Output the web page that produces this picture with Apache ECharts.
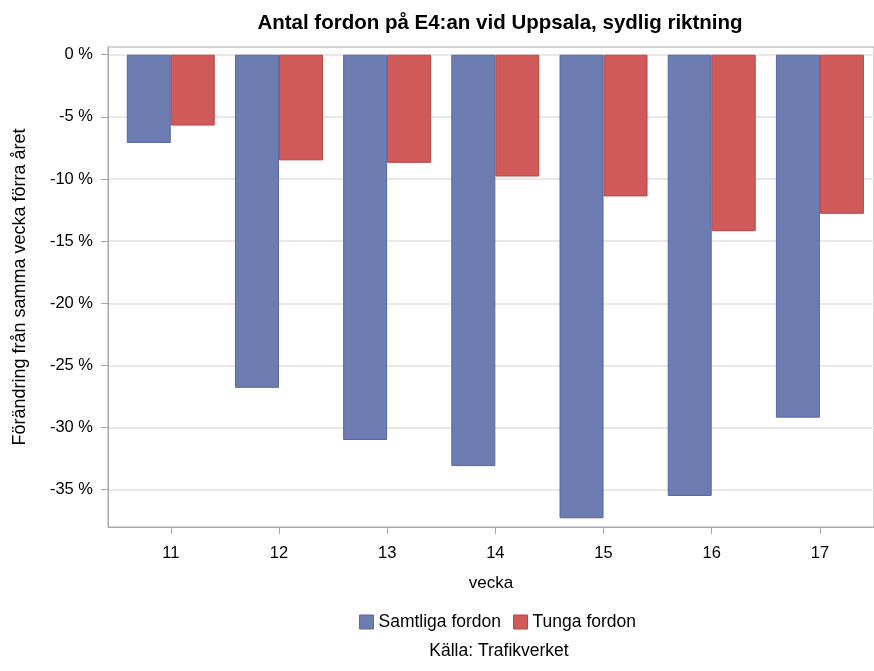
<!DOCTYPE html>
<html>
<head>
<meta charset="utf-8">
<script src="https://cdn.jsdelivr.net/npm/echarts@6/dist/echarts.min.js"></script>
<style>html,body{margin:0;padding:0;background:#fff}#c{width:874px;height:671px}</style>
</head>
<body>
<div id="c"></div>
<script>
const weeks = [11, 12, 13, 14, 15, 16, 17];
const samtliga = [-7.1, -26.8, -31.0, -33.1, -37.3, -35.5, -29.2];
const tunga = [-5.7, -8.5, -8.7, -9.8, -11.4, -14.2, -12.8];
const yTicks = [0, -5, -10, -15, -20, -25, -30, -35];

const font = '"Liberation Sans", Arial, sans-serif';
const chart = echarts.init(document.getElementById('c'), null, {renderer: 'canvas'});
chart.setOption({
  animation: false,
  textStyle: {fontFamily: font},
  title: [{
    text: 'Antal fordon på E4:an vid Uppsala, sydlig riktning',
    left: 495, top: 8, textAlign: 'center',
    textStyle: {fontFamily: font, fontSize: 20.5, fontWeight: 'bold', color: '#000'}
  }, {
    text: 'Källa: Trafikverket',
    left: 494, top: 637, textAlign: 'center',
    textStyle: {fontFamily: font, fontSize: 17.5, fontWeight: 'normal', color: '#000'}
  }],
  legend: {
    data: ['Samtliga fordon', 'Tunga fordon'],
    left: 354, top: 608, itemWidth: 14, itemHeight: 14, itemGap: 12, icon: 'rect',
    itemStyle: {borderWidth: 1},
    textStyle: {fontFamily: font, fontSize: 17.5, color: '#000'}
  },
  grid: {left: 108, right: 0, top: 47, bottom: 144, show: true, borderColor: '#a8a8a8', borderWidth: 1,
    backgroundColor: 'transparent', outerBoundsMode: 'none', containLabel: false},
  xAxis: {
    type: 'value', min: 10.42, max: 17.5,
    name: 'vecka', nameLocation: 'middle', nameGap: 48,
    nameTextStyle: {fontFamily: font, fontSize: 17, color: '#000'},
    axisLine: {show: true, onZero: false, lineStyle: {color: '#a8a8a8'}},
    axisTick: {show: true, customValues: weeks, length: 7, lineStyle: {color: '#a8a8a8'}},
    axisLabel: {customValues: weeks, fontSize: 16.5, color: '#000', margin: 18, fontFamily: font},
    splitLine: {show: false}
  },
  yAxis: {
    type: 'value', min: -38, max: 0.62,
    name: 'Förändring från samma vecka förra året', nameLocation: 'middle', nameGap: 79,
    nameTextStyle: {fontFamily: font, fontSize: 18, color: '#000'},
    axisLine: {show: true, onZero: false, lineStyle: {color: '#a8a8a8'}},
    axisTick: {show: true, customValues: yTicks, length: 7, lineStyle: {color: '#a8a8a8'}},
    axisLabel: {customValues: yTicks, fontSize: 16.5, color: '#000', margin: 15, fontFamily: font,
      formatter: v => (Math.round(v)) + ' %'},
    splitLine: {show: true, customValues: yTicks, lineStyle: {color: '#e8e8e8', width: 2}}
  },
  series: [{
    name: 'Samtliga fordon', type: 'bar', barWidth: 44, barGap: '0%',
    data: weeks.map((w, i) => [w, samtliga[i]]),
    itemStyle: {color: '#6d7db2', borderColor: '#5566a6', borderWidth: 1}
  }, {
    name: 'Tunga fordon', type: 'bar', barWidth: 44, barGap: '0%',
    data: weeks.map((w, i) => [w, tunga[i]]),
    itemStyle: {color: '#d05a5a', borderColor: '#b84545', borderWidth: 1}
  }]
});
</script>
</body>
</html>
